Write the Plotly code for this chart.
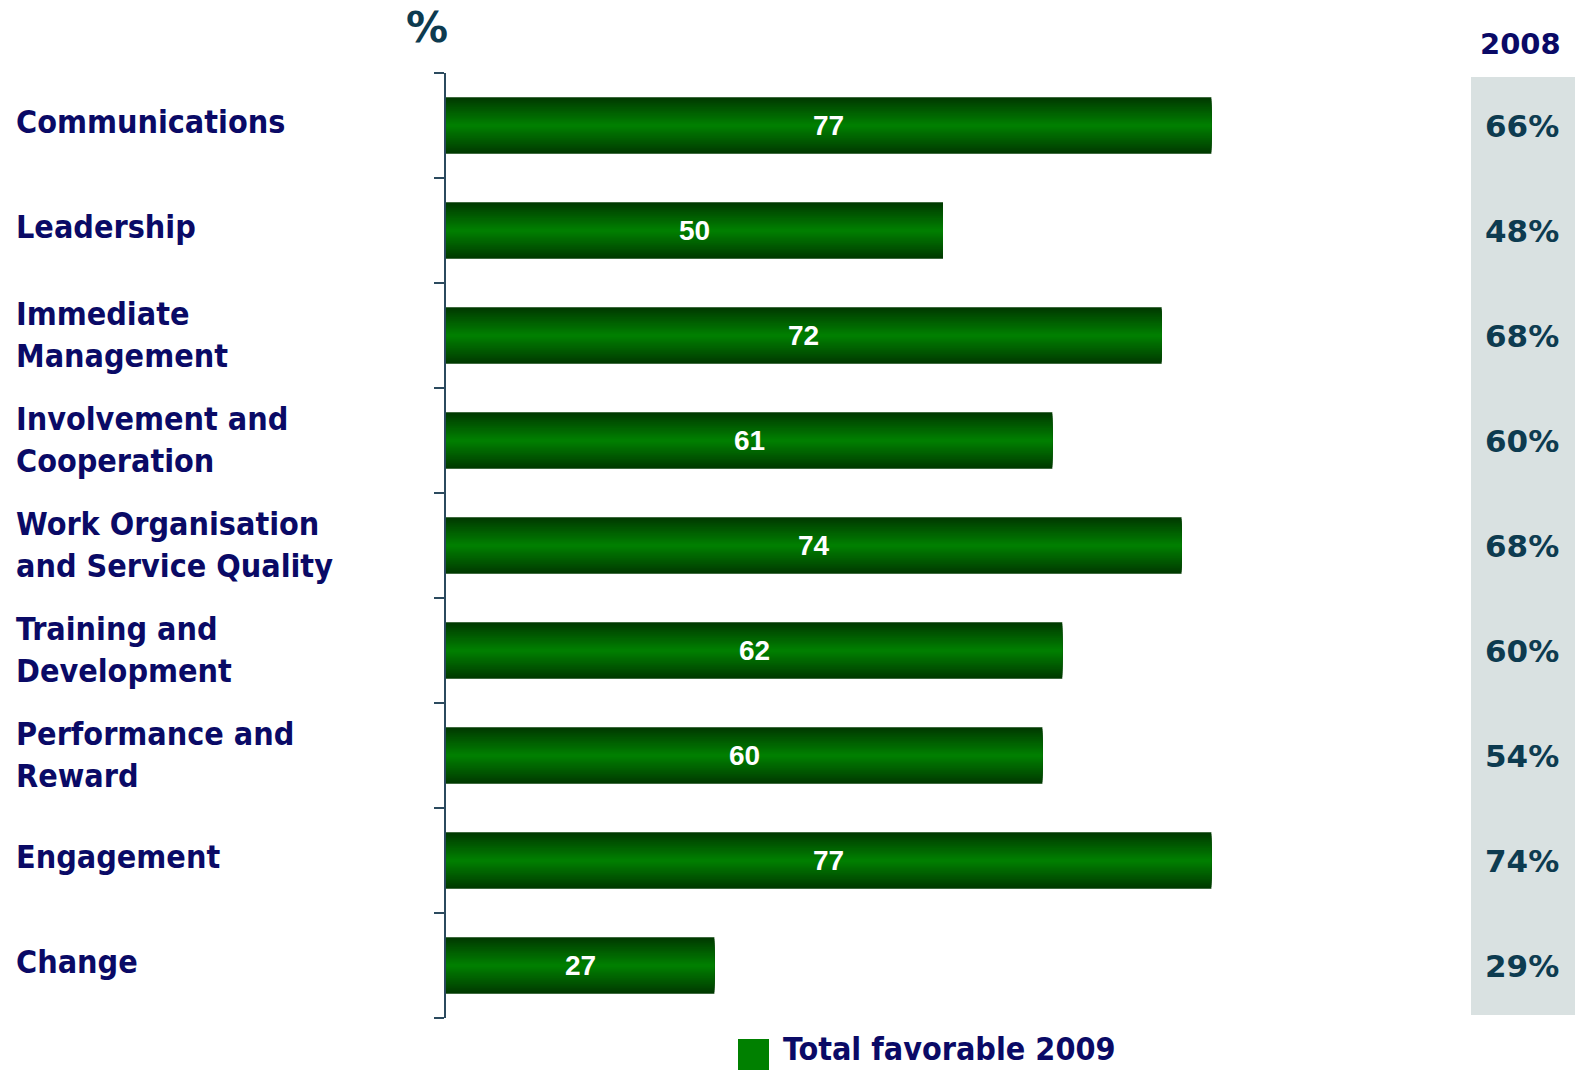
import plotly.graph_objects as go

categories = ["Communications", "Leadership", "Immediate<br>Management",
              "Involvement and<br>Cooperation", "Work Organisation<br>and Service Quality",
              "Training and<br>Development", "Performance and<br>Reward", "Engagement", "Change"]
values_2009 = [77, 50, 72, 61, 74, 62, 60, 77, 27]
labels_2008 = ["66%", "48%", "68%", "60%", "68%", "60%", "54%", "74%", "29%"]
legend_name = "Total favorable 2009"
col_header = "2008"
unit_label = "%"

# ---- layout geometry (pixels) ----
W, H = 1575, 1070
L, R, T, B = 446, 0, 73, 52
PW, PH = W - L - R, H - T - B
PX_PER_UNIT = 9.94
XMAX = PW / PX_PER_UNIT
N = len(categories)
ROW = PH / N

def px_to_x(px):
    return (px - L) / PX_PER_UNIT

def px_to_px_paper(px):
    return (px - L) / PW

def py_to_paper(py):
    return (H - B - py) / PH

def py_to_ycat(py):
    return (py - T) / ROW - 0.5

NAVY = "#0a0a66"
TEAL = "#0d3b50"
AXIS = "#2b4a5e"
LABEL_FONT = "DejaVu Sans Condensed, DejaVu Sans"

fig = go.Figure()

# gradient bars: overlay layers from dark (outer) to bright (center)
BAR_W = 0.54
NL = 14
dark = (0, 58, 0)
bright = (0, 126, 0)
for k in range(NL):
    f = k / (NL - 1)
    c = tuple(round(dark[i] + (bright[i] - dark[i]) * f) for i in range(3))
    w = BAR_W * (1 - k / NL)
    fig.add_trace(go.Bar(
        y=list(range(N)), x=values_2009, orientation="h", width=w,
        marker=dict(color="rgb(%d,%d,%d)" % c, line=dict(width=0)),
        showlegend=False, hoverinfo="skip" if k < NL - 1 else "x",
        name=legend_name,
    ))

fig.update_layout(
    width=W, height=H, barmode="overlay",
    margin=dict(l=L, r=R, t=T, b=B, pad=0),
    paper_bgcolor="white", plot_bgcolor="white",
    xaxis=dict(visible=False, range=[0, XMAX], fixedrange=True),
    yaxis=dict(range=[N - 0.5, -0.5], tickmode="array",
               tickvals=[i - 0.5 for i in range(N + 1)],
               showticklabels=False, ticks="outside", ticklen=10, tickwidth=2,
               tickcolor=AXIS, showline=True,
               linecolor=AXIS, linewidth=2, showgrid=False, zeroline=False),
    showlegend=False,
)

# grey column for 2008
fig.add_shape(type="rect", xref="x", yref="y", layer="below",
              x0=px_to_x(1471), x1=XMAX, y0=py_to_ycat(77), y1=py_to_ycat(1015),
              fillcolor="#d9e1e1", line=dict(width=0))

ann = []
for i, (cat, v, l8) in enumerate(zip(categories, values_2009, labels_2008)):
    ann.append(dict(xref="paper", yref="y", x=px_to_px_paper(14), y=i, xanchor="left",
                    yanchor="middle", align="left", text=cat, showarrow=False,
                    yshift=4 if "<br>" not in cat else 1,
                    font=dict(family=LABEL_FONT, size=32, color=NAVY, weight="bold")))
    ann.append(dict(xref="x", yref="y", x=v / 2, y=i, text=str(v), showarrow=False,
                    xanchor="center", yanchor="middle",
                    font=dict(family="Liberation Sans, Arial", size=28, color="white", weight="bold")))
    ann.append(dict(xref="x", yref="y", x=px_to_x(1522), y=i, text=l8, showarrow=False,
                    xanchor="center", yanchor="middle",
                    font=dict(family="DejaVu Sans", size=31, color=TEAL, weight="bold")))

ann.append(dict(xref="paper", yref="paper", x=px_to_px_paper(427), y=py_to_paper(27),
                text=unit_label, showarrow=False, xanchor="center", yanchor="middle",
                font=dict(family="DejaVu Sans", size=42, color=TEAL, weight="bold")))
ann.append(dict(xref="paper", yref="paper", x=px_to_px_paper(1520), y=py_to_paper(44),
                text=col_header, showarrow=False, xanchor="center", yanchor="middle",
                font=dict(family="DejaVu Sans", size=29, color=NAVY, weight="bold")))
ann.append(dict(xref="paper", yref="paper", x=px_to_px_paper(781), y=py_to_paper(1049),
                text=legend_name, showarrow=False, xanchor="left", yanchor="middle",
                font=dict(family=LABEL_FONT, size=32, color=NAVY, weight="bold")))
fig.update_layout(annotations=ann)

fig.add_shape(type="rect", xref="paper", yref="paper",
              x0=px_to_px_paper(738), x1=px_to_px_paper(769),
              y0=py_to_paper(1039), y1=py_to_paper(1070),
              fillcolor="#008000", line=dict(width=0))

fig.write_html("out.html", config={"displayModeBar": False},
               post_script="document.body.style.margin='0';document.body.style.overflow='hidden';")
